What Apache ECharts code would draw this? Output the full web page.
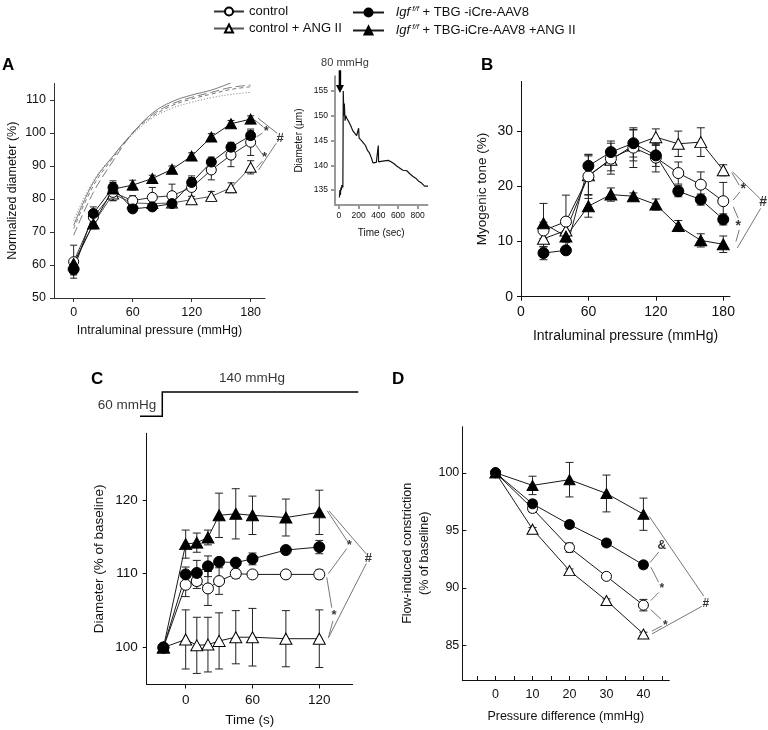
<!DOCTYPE html>
<html><head><meta charset="utf-8">
<script src="https://cdn.jsdelivr.net/npm/echarts@6/dist/echarts.min.js"></script>
<style>html,body{margin:0;padding:0;background:#fff}#c{width:768px;height:730px}</style>
</head><body><div id="c"></div>
<script>
// ---------- Panel A : normalized diameter ----------
const aX=[0,20,40,60,80,100,120,140,160,180];
const aControl=[61,74.5,82,79.5,80.5,81,83.5,88.8,93.3,97.2];
const aControlErr=[5,1.5,2.5,1.5,3,3.5,3.5,3,3.5,4];
const aIgf=[58.5,75.6,83.5,77,77.6,78.6,85,91.2,95.7,99.2];
const aIgfErr=[1.5,2,1.5,1,1,1,1.5,1.5,1.5,1.5];
const aAng=[60,72.5,81.5,78.8,78.6,78.8,79.8,80.8,83.4,89.6];
const aAngErr=[1.5,1.5,2,1,1,1,1,1.5,1.5,2];
const aIgfAng=[60.5,72.5,83,84.2,86.2,89,93,98.8,102.8,104.2];
const aIgfAngErr=[1,1.5,2.5,1.5,1,1,1,1,1,1];
// passive curves
const aPass1=[72,85,93,100,106,109.5,111.5,113,115.2,null];
const aPass2=[69,82,91.5,100,105.5,108.8,110.8,112.3,113.8,114.5];
const aPass3=[71,84,92.5,100,105,108.3,110.3,111.8,113.2,114];
const aPass4=[73.5,85.5,93,99.5,104.5,107.5,109.3,110.7,111.7,112.3];
const aXTicks=[0,60,120,180];
const aYTicks=[50,60,70,80,90,100,110];
// ---------- Inset : diameter trace ----------
const insT=[5,10,15,20,25,30,40,44,50,55,62,70,80,100,120,140,160,180,195,200,205,230,250,270,290,310,330,345,380,398,400,403,430,460,500,530,560,590,620,650,690,720,750,780,810,840,870,890,905];
const insD=[133.5,135,134,135.5,135,136,135.5,155,150,152.5,149,150,149.5,148.8,148,147,146.5,146,146,147.5,145.5,145,144.5,144,143,142.5,141.5,140.5,140.6,140.6,144,140.7,140.8,140.9,141,140.7,140.3,139.8,139.4,139,138.9,138.3,137.8,137.4,136.8,136.4,135.8,135.5,135.8];
const insXTicks=[0,200,400,600,800];
const insYTicks=[135,140,145,150,155];
// ---------- Panel B : myogenic tone ----------
const bX=[20,40,60,80,100,120,140,160,180];
const bControl=[12,13.6,21.8,25,27,25.2,22.4,20.3,17.3];
const bControlErr=[1.5,4.8,4,2.8,3.6,2.6,2,2.3,3.4];
const bIgf=[7.9,8.4,23.7,26.2,27.8,25.6,19.1,17.6,14];
const bIgfErr=[1.2,0.6,2,2,2.5,2,1,1,1];
const bAng=[10.5,12,22,24.8,27.4,28.9,27.7,28,22.9];
const bAngErr=[1.5,2,3.5,2,2.8,1.5,2.3,2.6,1];
const bIgfAng=[13.3,10.9,16.4,18.5,18.2,16.7,12.8,10.2,9.5];
const bIgfAngErr=[3.6,1,2,1.2,0.6,1,1,1.2,1.5];
const bXTicks=[0,60,120,180];
const bYTicks=[0,10,20,30];
// ---------- Panel C : diameter after pressure step ----------
const cX=[-20,0,10,20,30,45,60,90,120];
const cControl=[100,108.5,109,108,109,110,109.9,109.9,109.9];
const cControlErr=[0,1.6,1,2.3,1.8,0.6,0.4,0.4,0.6];
const cIgf=[100,109.9,110.1,111,111.6,111.5,112,113.2,113.6];
const cIgfErr=[0,1,1.7,1.4,0.5,0.4,0.8,0.3,0.9];
const cAng=[100,101.1,100.3,100.4,100.9,101.4,101.4,101.2,101.2];
const cAngErr=[0,4,3.8,3.7,3.8,3.6,3.9,3.8,3.9];
const cIgfAng=[100,114,114.2,114.9,117.9,118.1,117.9,117.6,118.3];
const cIgfAngErr=[0,1.9,1.3,1,3,3.4,2.6,2.5,3];
const cXTicks=[0,60,120];
const cYTicks=[100,110,120];
// ---------- Panel D : flow-induced constriction ----------
const dX=[0,10,20,30,40];
const dControl=[100,96.9,93.5,91,88.5];
const dControlErr=[0,0.3,0.4,0.2,0.5];
const dIgf=[100,97.3,95.5,93.9,92];
const dIgfErr=[0,0.3,0.3,0.3,0.3];
const dAng=[100,95.1,91.5,88.9,86];
const dAngErr=[0,0.15,0.15,0.15,0.15];
const dIgfAng=[100,98.9,99.4,98.2,96.4];
const dIgfAngErr=[0,0.8,1.5,1.6,1.4];
const dXTicks=[0,10,20,30,40];
const dXMinor=[-5,0,5,10,15,20,25,30,35,40,45];
const dYTicks=[85,90,95,100];

const F='Liberation Sans, Arial, sans-serif';
const chart=echarts.init(document.getElementById('c'));

function P(xs,ys){const r=[];xs.forEach((x,i)=>{if(ys[i]!=null)r.push([x,ys[i]]);});return r;}
function E(xs,ys,es){const r=[];xs.forEach((x,i)=>{if(es[i]>0)r.push([x,ys[i]-es[i],ys[i]+es[i]]);});return r;}
const STY={'control':{symbol:'circle',fill:'#fff'},'control + ANG II':{symbol:'triangle',fill:'#fff'},'igf':{symbol:'circle',fill:'#000'},'igfAng':{symbol:'triangle',fill:'#000'}};
function dataS(name,gi,xs,ys,size,lc){
  const s=STY[name];
  return {type:'line',name,xAxisIndex:gi,yAxisIndex:gi,data:P(xs,ys),symbol:s.symbol,
    symbolSize:s.symbol==='triangle'?[size+1,size]:size,showAllSymbol:true,
    itemStyle:{color:s.fill,borderColor:'#000',borderWidth:1},
    lineStyle:{color:lc||'#1a1a1a',width:1},z:4,animation:false,emphasis:{disabled:true},silent:true};
}
function errS(gi,xs,ys,es,cap){
  return {type:'custom',xAxisIndex:gi,yAxisIndex:gi,data:E(xs,ys,es),z:3,encode:{x:0,y:[1,2]},
    animation:false,silent:true,
    renderItem(p,api){const x=api.value(0);const a=api.coord([x,api.value(1)]),b=api.coord([x,api.value(2)]);
      const st={stroke:'#222',lineWidth:1};
      return {type:'group',children:[
        {type:'line',shape:{x1:a[0],y1:a[1],x2:b[0],y2:b[1]},style:st},
        {type:'line',shape:{x1:a[0]-cap,y1:a[1],x2:a[0]+cap,y2:a[1]},style:st},
        {type:'line',shape:{x1:b[0]-cap,y1:b[1],x2:b[0]+cap,y2:b[1]},style:st}]};}};
}
function segS(gi,segs,color,width){
  return {type:'lines',coordinateSystem:'cartesian2d',xAxisIndex:gi,yAxisIndex:gi,clip:false,polyline:true,
    data:segs.map(s=>({coords:s})),lineStyle:{color:color||'#777',width:width||1,opacity:1},silent:true,animation:false,z:2};
}
function txtS(gi,items,fs,weight){
  return {type:'scatter',xAxisIndex:gi,yAxisIndex:gi,clip:false,symbolSize:1,itemStyle:{color:'rgba(0,0,0,0)'},
    data:items.map(t=>({value:[t[0],t[1]],label:{formatter:t[2]}})),
    label:{show:true,position:'inside',color:'#000',fontSize:fs,fontFamily:F,fontWeight:weight||'normal'},
    silent:true,animation:false,z:5};
}
function ax(gi,min,max,labels,ticks,fs,name,gap,nfs,margin,opt){
  opt=opt||{};
  return {type:'value',gridIndex:gi,min,max,splitLine:{show:false},
    axisLine:{show:true,onZero:false,lineStyle:{color:opt.color||'#111',width:opt.width||1}},
    axisTick:{show:true,inside:!!opt.inside,length:4,customValues:ticks,lineStyle:{color:opt.color||'#111',width:opt.width||1}},
    axisLabel:{customValues:labels,fontSize:fs,fontFamily:F,color:'#111',margin:margin,showMinLabel:true,showMaxLabel:true},
    name,nameLocation:'middle',nameGap:gap,nameTextStyle:{fontSize:nfs,fontFamily:F,color:'#111',lineHeight:nfs+4}};
}
function passS(ys,type){
  return {type:'line',xAxisIndex:0,yAxisIndex:0,data:P(aX,ys),smooth:0.4,symbol:'none',
    lineStyle:{color:'#7a7a7a',width:1,type},z:1,animation:false,silent:true};
}

const series=[
  // A
  passS(aPass1,'solid'),passS(aPass2,[9,4]),passS(aPass3,[4,3]),passS(aPass4,[1,2]),
  errS(0,aX,aControl,aControlErr,3.5),errS(0,aX,aIgf,aIgfErr,3.5),errS(0,aX,aAng,aAngErr,3.5),errS(0,aX,aIgfAng,aIgfAngErr,3.5),
  dataS('control + ANG II',0,aX,aAng,10,'#555'),
  dataS('control',0,aX,aControl,10,'#333'),
  dataS('igf',0,aX,aIgf,10),
  dataS('igfAng',0,aX,aIgfAng,10),
  segS(0,[[[184,104],[193,101.8]],[[186,98.8],[192,100]],[[185,96.5],[192,93.5]],[[186,89.5],[192,91.5]],[[187.5,104.5],[207,99.9]],[[188,88.8],[206,96.9]]]),
  txtS(0,[[196,100.6,'*'],[194,92.6,'*'],[210,98.4,'#']],13,'bold'),
  // inset
  {type:'line',xAxisIndex:1,yAxisIndex:1,data:P(insT,insD),symbol:'none',lineStyle:{color:'#111',width:1.2},animation:false,silent:true,z:3},
  segS(1,[[[10,159.2],[10,155.6]]],'#000',2.5),
  {type:'lines',coordinateSystem:'cartesian2d',xAxisIndex:1,yAxisIndex:1,clip:false,data:[{coords:[[10,158],[10,155.4]]}],
   symbol:['none','triangle'],symbolSize:8,lineStyle:{color:'#000',width:0.1,opacity:1},silent:true,animation:false,z:4},
  txtS(1,[[61,160.6,'80 mmHg']],11),
  // B
  errS(2,bX,bControl,bControlErr,4),errS(2,bX,bIgf,bIgfErr,4),errS(2,bX,bAng,bAngErr,4),errS(2,bX,bIgfAng,bIgfAngErr,4),
  dataS('control + ANG II',2,bX,bAng,11),
  dataS('control',2,bX,bControl,11),
  dataS('igf',2,bX,bIgf,11),
  dataS('igfAng',2,bX,bIgfAng,11),
  segS(2,[[[187.5,22.5],[194.2,20.2]],[[188.9,17.5],[194.8,19.0]],[[188.9,16.3],[193.3,14.2]],[[191.3,10.0],[194.2,12.1]],[[188.3,22.6],[212.6,17.8]],[[192.4,8.8],[213.3,16.0]]]),
  txtS(2,[[197.8,19.4,'*'],[193.3,12.8,'*'],[215.6,17.2,'#']],14,'bold'),
  // C
  errS(3,cX,cControl,cControlErr,4),errS(3,cX,cIgf,cIgfErr,4),errS(3,cX,cAng,cAngErr,4),errS(3,cX,cIgfAng,cIgfAngErr,4),
  dataS('control + ANG II',3,cX,cAng,11),
  dataS('control',3,cX,cControl,11),
  dataS('igfAng',3,cX,cIgfAng,11),
  dataS('igf',3,cX,cIgf,11),
  segS(3,[[[127.2,118.5],[145.2,114.4]],[[128.8,118.5],[162.6,112.6]],[[128.1,110.0],[144.7,113.4]],[[126.7,109.5],[131.2,105.4]],[[128.1,101.3],[132.2,103.6]],[[128.5,101.4],[162.3,111.4]]]),
  txtS(3,[[147,113.8,'*'],[133.2,104.4,'*'],[164,112,'#']],13,'bold'),
  {type:'lines',coordinateSystem:'cartesian2d',xAxisIndex:3,yAxisIndex:3,clip:false,polyline:true,
   data:[{coords:[[-41,131.3],[-21,131.3],[-21,134.6],[155,134.6]]}],lineStyle:{color:'#000',width:1.5,opacity:1},silent:true,animation:false},
  txtS(3,[[-52.7,132.8,'60 mmHg'],[59.6,136.4,'140 mmHg']],13.5),
  // D
  errS(4,dX,dControl,dControlErr,4),errS(4,dX,dIgf,dIgfErr,4),errS(4,dX,dAng,dAngErr,4),errS(4,dX,dIgfAng,dIgfAngErr,4),
  dataS('control + ANG II',4,dX,dAng,10),
  dataS('control',4,dX,dControl,10),
  dataS('igfAng',4,dX,dIgfAng,10),
  dataS('igf',4,dX,dIgf,10),
  segS(4,[[[41.8,92.2],[44.1,93.1]],[[42.0,91.8],[44.1,90.5]],[[42.0,88.9],[44.1,89.6]],[[42.0,88.1],[44.7,87.3]],[[42.3,86.25],[45.0,86.7]],[[41.6,96.2],[56.3,89.3]],[[42.3,86.0],[55.8,88.4]]]),
  txtS(4,[[45,93.7,'&'],[45,89.9,'*'],[45.9,86.7,'*'],[56.9,88.65,'#']],12,'bold')
];

const legName={
  'control':'{n|control}',
  'control + ANG II':'{n|control + ANG II}',
  'igf':'{i|Igf}{s| f/f}{n| + TBG -iCre-AAV8}',
  'igfAng':'{i|Igf}{s| f/f}{n| + TBG-iCre-AAV8 +ANG II}'
};
const rich={n:{fontSize:13,fontFamily:F,color:'#111'},i:{fontSize:13,fontFamily:F,color:'#111',fontStyle:'italic'},
  s:{fontSize:8,fontFamily:F,color:'#111',fontStyle:'italic',padding:[0,0,7,0]}};

chart.setOption({
  animation:false,
  backgroundColor:'#fff',
  legend:[
    {left:208,top:0,orient:'vertical',itemWidth:30,itemHeight:10,itemGap:4,selectedMode:false,data:['control','control + ANG II'],
     formatter:n=>legName[n],textStyle:{rich}},
    {left:347,top:0,orient:'vertical',itemWidth:31,itemHeight:10,itemGap:4,selectedMode:false,data:['igf','igfAng'],
     formatter:n=>'  '+legName[n],textStyle:{rich}}
  ],
  grid:[
    {left:54,top:83.5,width:211,height:214.5},
    {left:335,top:76.2,width:92.5,height:128.7},
    {left:521,top:81.4,width:209,height:215.3},
    {left:146.7,top:433.3,width:206,height:252.7},
    {left:462.3,top:426.7,width:207,height:253.3}
  ],
  xAxis:[
    ax(0,-20,194.6,aXTicks,aXTicks,12.5,'Intraluminal pressure (mmHg)',24,12.5,8,{color:'#333'}),
    ax(1,-40,900,insXTicks,insXTicks,8.5,'Time (sec)',21,10,6,{color:'#999',width:2}),
    ax(2,0,186,bXTicks,bXTicks,14,'Intraluminal pressure (mmHg)',30,14,8),
    ax(3,-35,150,cXTicks,cXTicks,13.5,'Time (s)',27,13.5,9),
    ax(4,-9,47,dXTicks,dXMinor,12.5,'Pressure difference (mmHg)',28,12.5,8,{inside:true})
  ],
  yAxis:[
    ax(0,50,115,aYTicks,aYTicks,12.5,'Normalized diameter (%)',33,12.5,8,{color:'#333'}),
    ax(1,132,158,insYTicks,insYTicks,8.5,'Diameter (µm)',29,10,7,{color:'#999',width:2}),
    ax(2,0,39,bYTicks,bYTicks,14,'Myogenic tone (%)',30,13.5,8),
    ax(3,95,129,cYTicks,cYTicks,13.5,'Diameter (% of baseline)',39,13.5,9),
    ax(4,82,104,dYTicks,dYTicks,12.5,'Flow-induced constriction\n(% of baseline)',30,12.5,3,{inside:true})
  ],
  graphic:[
    {type:'text',left:2,top:57,style:{text:'A',fontSize:17,fontWeight:'bold',fontFamily:F,fill:'#000'}},
    {type:'text',left:481,top:57,style:{text:'B',fontSize:17,fontWeight:'bold',fontFamily:F,fill:'#000'}},
    {type:'text',left:91,top:371,style:{text:'C',fontSize:17,fontWeight:'bold',fontFamily:F,fill:'#000'}},
    {type:'text',left:392,top:371,style:{text:'D',fontSize:17,fontWeight:'bold',fontFamily:F,fill:'#000'}}
  ],
  series
});
</script></body></html>
